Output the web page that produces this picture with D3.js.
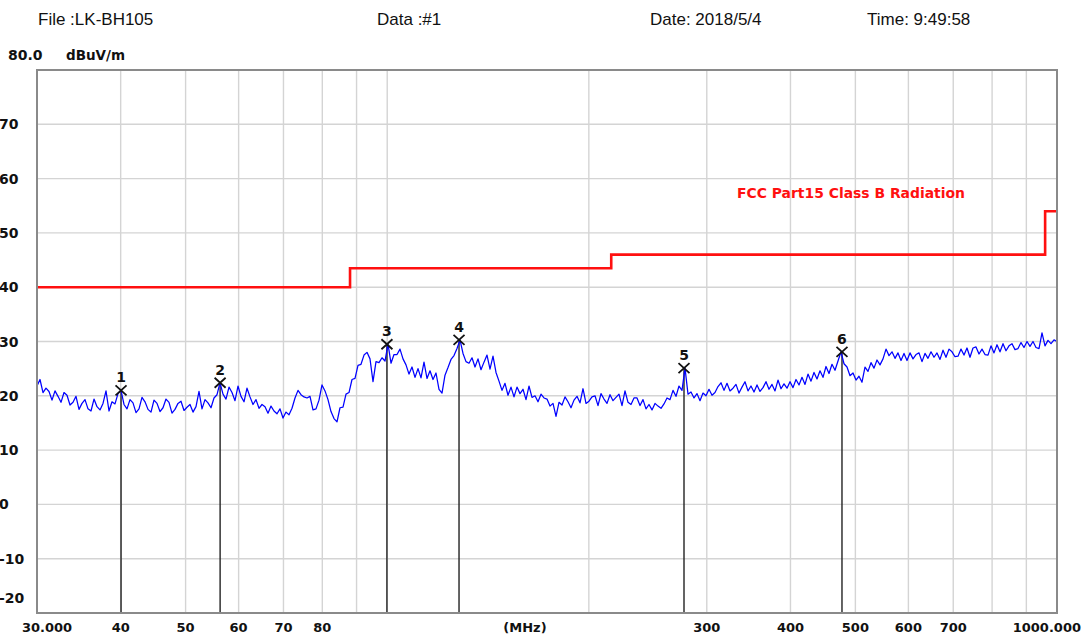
<!DOCTYPE html>
<html>
<head>
<meta charset="utf-8">
<script src="https://cdn.jsdelivr.net/npm/d3@7"></script>
<style>
  body { margin: 0; background: #fff; }
  svg { display: block; }
</style>
</head>
<body>
<svg id="chart" width="1084" height="635"></svg>
<script>
// Header fields
const headerTexts = ["File :LK-BH105", "Data :#1", "Date: 2018/5/4", "Time: 9:49:58"];
const unitText = "dBuV/m";
const yTopText = "80.0";
const limitName = "FCC Part15 Class B Radiation";
const xUnitText = "(MHz)";

// Axes
const yDomain = [-20, 80];
const yTicks = [70, 60, 50, 40, 30, 20, 10, 0, -10, -20];
const yGrid = [70, 60, 50, 40, 30, 20, 10, 0, -10];
const xDomain = [30, 1000];
const xGrid = [40, 50, 60, 70, 80, 90, 100, 200, 300, 400, 500, 600, 700, 800, 900];
const xTickValues = [30, 40, 50, 60, 70, 80, 300, 400, 500, 600, 700, 1000];
const xTickText = ["30.000", "40", "50", "60", "70", "80", "300", "400", "500", "600", "700", "1000.000"];

// Limit line (band edges in MHz, level in dBuV/m)
const limitFreq = [30, 88, 216, 960, 1000];
const limitLevel = [40, 43.5, 46, 54, 54];

// Peak markers
const markerNo = [1, 2, 3, 4, 5, 6];
const markerFreq = [40.05, 56.3, 99.9, 128.0, 277.4, 477.5];
const markerLevel = [21.0, 22.4, 29.5, 30.3, 25.1, 28.1];

// Sweep: log-spaced from sweepStart to sweepStop, one level per point
const sweepStart = 30, sweepStop = 1000;
const sweepLevels = [
21.8, 23.0, 20.6, 21.4, 20.8, 19.2, 20.9, 19.9, 18.8, 20.6,
20.1, 18.3, 18.8, 19.9, 17.5, 18.6, 19.3, 17.6, 17.2, 19.4,
18.0, 17.4, 18.6, 20.9, 17.2, 18.9, 18.5, 20.4, 21.0, 18.4,
17.6, 19.3, 18.7, 16.9, 17.6, 19.7, 18.9, 17.5, 17.0, 19.2,
18.6, 17.1, 17.8, 19.4, 18.8, 16.8, 17.5, 18.6, 19.0, 17.3,
17.9, 18.4, 17.0, 18.0, 20.8, 17.6, 19.3, 18.7, 17.8, 19.6,
20.2, 22.4, 20.3, 19.4, 21.6, 20.6, 19.1, 21.8, 19.9, 18.9,
21.4, 19.8, 18.4, 19.3, 17.7, 18.4, 18.0, 16.8, 18.1, 17.2,
16.7, 17.6, 15.9, 17.0, 16.5, 17.7, 19.6, 21.0, 20.2, 19.8,
19.6, 19.9, 17.4, 17.6, 19.2, 22.0, 20.9, 19.3, 17.1, 15.8,
15.2, 17.8, 17.9, 20.3, 20.6, 23.0, 23.2, 25.6, 25.8, 27.5,
28.0, 26.8, 22.6, 26.3, 26.1, 27.0, 26.4, 29.5, 26.0, 27.6,
27.6, 28.6, 26.8, 25.7, 24.0, 25.3, 23.4, 25.0, 23.3, 26.2,
23.2, 24.6, 23.0, 24.2, 21.2, 20.5, 23.8, 25.2, 26.7, 27.4,
28.7, 30.3, 27.8, 26.3, 26.0, 27.0, 25.3, 26.8, 24.8, 26.2,
27.5, 24.9, 27.3, 24.3, 22.7, 21.0, 22.3, 20.1, 21.6, 19.8,
21.6, 20.4, 21.2, 19.3, 21.8, 19.7, 20.0, 18.9, 20.3, 19.6,
19.4, 18.1, 18.6, 16.2, 18.8, 18.3, 19.8, 18.9, 17.8, 19.2,
19.9, 18.7, 21.3, 18.6, 19.0, 19.8, 20.0, 18.2, 20.4, 19.4,
18.6, 20.2, 19.1, 19.7, 20.3, 18.2, 20.9, 18.8, 18.4, 19.6,
19.6, 18.2, 19.3, 17.6, 18.4, 17.4, 18.6, 18.1, 17.7, 18.5,
19.6, 19.3, 21.0, 19.9, 21.8, 21.0, 25.1, 20.3, 20.7, 19.6,
20.4, 19.1, 20.5, 20.0, 21.2, 20.1, 20.6, 21.7, 22.4, 21.0,
22.3, 20.9, 21.4, 22.1, 20.5, 21.6, 22.6, 20.9, 21.8, 20.7,
22.0, 20.8, 21.5, 22.6, 21.2, 22.1, 20.9, 22.9, 21.3, 22.2,
21.4, 22.6, 21.5, 23.0, 22.0, 23.4, 22.1, 24.0, 22.7, 24.3,
23.1, 24.6, 23.4, 25.4, 24.1, 25.8, 24.7, 26.4, 28.1, 25.9,
25.3, 23.7, 24.2, 22.9, 23.6, 22.5, 25.3, 24.5, 26.1, 25.1,
26.6, 25.7, 26.8, 28.6, 27.4, 28.1, 26.9, 27.9, 26.5, 27.8,
26.5, 27.9, 26.8, 27.6, 27.9, 26.3, 27.8, 26.9, 28.1, 27.1,
27.9, 26.7, 28.4, 27.1, 28.6, 28.1, 27.2, 27.3, 28.6, 27.5,
28.8, 27.1, 28.8, 29.0, 27.7, 28.6, 27.6, 27.5, 29.2, 27.9,
29.4, 28.1, 29.6, 28.3, 29.2, 29.6, 28.5, 28.7, 29.8, 28.9,
30.0, 29.1, 30.0, 28.9, 28.7, 31.6, 29.2, 30.2, 29.6, 30.3,
30.0
];

// ---- layout ----
const plot = { left: 37, top: 70, right: 1057, bottom: 613 };
const boldFont = "DejaVu Sans, Verdana, sans-serif";
const headFont = "Liberation Sans, Arial, sans-serif";

const svg = d3.select("#chart");

const x = d3.scaleLog().domain(xDomain).range([plot.left, plot.right]);
const y = d3.scaleLinear().domain(yDomain).range([plot.bottom, plot.top]);

function boldText(sel, size) {
  return sel.attr("font-family", boldFont).attr("font-weight", "bold")
    .attr("font-size", size).attr("fill", "#111");
}

// header
const headerX = [38, 377, 650, 867];
svg.append("g").selectAll("text").data(headerTexts).join("text")
  .attr("x", (d, i) => headerX[i]).attr("y", 25)
  .attr("font-family", headFont).attr("font-size", 17).attr("fill", "#111")
  .text(d => d);

boldText(svg.append("text").attr("x", 8).attr("y", 60), 14).text(yTopText);
boldText(svg.append("text").attr("x", 66).attr("y", 60), 13.5).text(unitText);

// grid
const grid = svg.append("g").attr("stroke", "#d4d4d4").attr("stroke-width", 1.4);
grid.selectAll("line.h").data(yGrid).join("line").attr("class", "h")
  .attr("x1", plot.left).attr("x2", plot.right)
  .attr("y1", d => y(d)).attr("y2", d => y(d));
grid.selectAll("line.v").data(xGrid).join("line").attr("class", "v")
  .attr("x1", d => x(d)).attr("x2", d => x(d))
  .attr("y1", plot.top).attr("y2", plot.bottom);

// y labels
boldText(svg.append("g").selectAll("text").data(yTicks).join("text")
  .attr("x", -1)
  .attr("y", d => (d === -20 ? y(d) - 15 : y(d)) + 5), 14)
  .text(d => d);

// x labels
boldText(svg.append("g").selectAll("text").data(xTickValues).join("text")
  .attr("x", (d, i) => i === 0 ? 22 : (i === xTickValues.length - 1 ? 1081 : x(d)))
  .attr("y", 632)
  .attr("text-anchor", (d, i) => i === 0 ? "start" : (i === xTickValues.length - 1 ? "end" : "middle")), 13)
  .text((d, i) => xTickText[i]);
boldText(svg.append("text").attr("x", 525).attr("y", 632).attr("text-anchor", "middle"), 13)
  .text(xUnitText);

// limit line
const limitPts = limitFreq.map((f, i) => [f, limitLevel[i]]);
svg.append("path").datum(limitPts)
  .attr("fill", "none").attr("stroke", "#ff1010").attr("stroke-width", 2.6)
  .attr("d", d3.line().x(d => x(d[0])).y(d => y(d[1])).curve(d3.curveStepAfter));

boldText(svg.append("text").attr("x", 737).attr("y", 198), 14)
  .attr("fill", "#ff1010").attr("textLength", 228).attr("lengthAdjust", "spacingAndGlyphs")
  .text(limitName);

// marker stems
const markers = markerNo.map((n, i) => ({ n, f: markerFreq[i], v: markerLevel[i] }));
svg.append("g").selectAll("line").data(markers).join("line")
  .attr("x1", d => x(d.f)).attr("x2", d => x(d.f))
  .attr("y1", d => y(d.v)).attr("y2", plot.bottom)
  .attr("stroke", "#222").attr("stroke-width", 1.4);

// sweep trace
const nPts = sweepLevels.length;
const sweepFreq = d3.range(nPts).map(i => sweepStart * Math.pow(sweepStop / sweepStart, i / (nPts - 1)));
svg.append("path").datum(sweepLevels)
  .attr("fill", "none").attr("stroke", "#0000ff").attr("stroke-width", 1.25)
  .attr("stroke-linejoin", "round")
  .attr("d", d3.line().x((d, i) => x(sweepFreq[i])).y(d => y(d)));

// marker symbols and numbers
const mg = svg.append("g").selectAll("g").data(markers).join("g")
  .attr("transform", d => `translate(${x(d.f)},${y(d.v)})`);
mg.append("path").attr("d", "M-5.5,-5L5.5,5M5.5,-5L-5.5,5")
  .attr("stroke", "#111").attr("stroke-width", 1.8).attr("fill", "none");
boldText(mg.append("text").attr("y", -8).attr("text-anchor", "middle"), 14)
  .text(d => d.n);

// plot frame
svg.append("rect").attr("x", plot.left).attr("y", plot.top)
  .attr("width", plot.right - plot.left).attr("height", plot.bottom - plot.top)
  .attr("fill", "none").attr("stroke", "#8a8a8a").attr("stroke-width", 2);
</script>
</body>
</html>
